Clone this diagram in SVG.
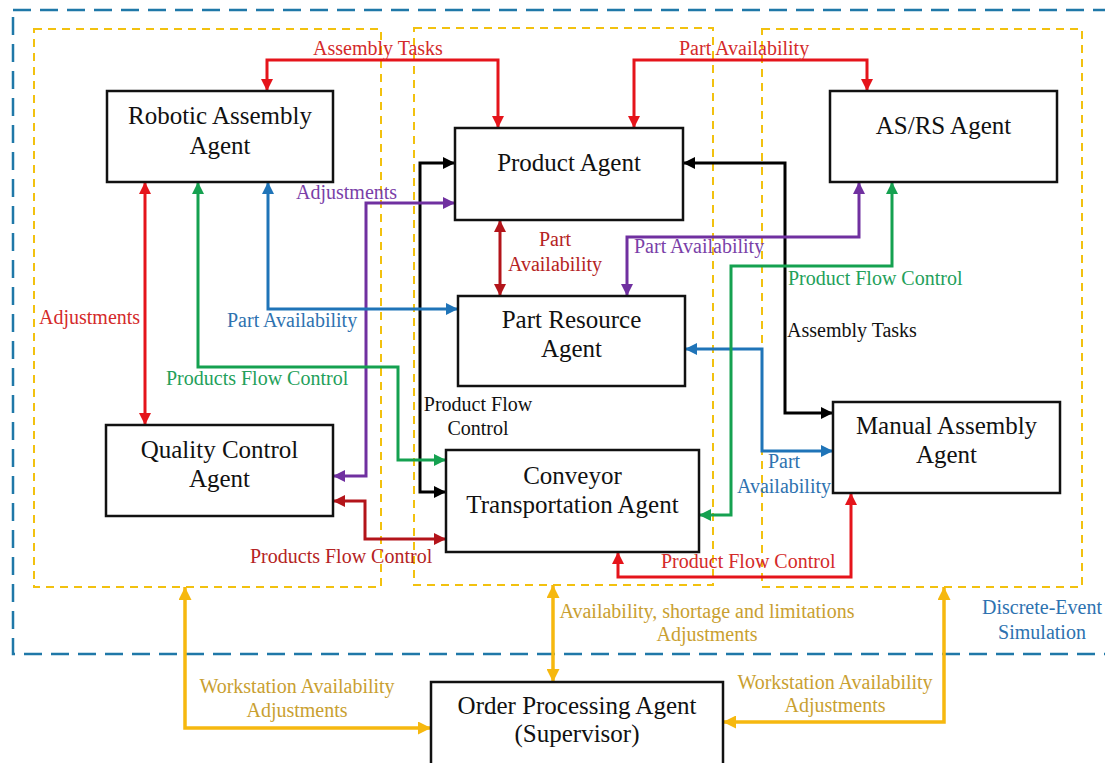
<svg xmlns="http://www.w3.org/2000/svg" width="1105" height="763" viewBox="0 0 1105 763">
<style>
.node rect{fill:#fff;stroke:#111;stroke-width:2.5}
.nt{font-family:"Liberation Serif","Times New Roman",serif;font-size:25px;fill:#111;text-anchor:middle}
.lb{font-family:"Liberation Serif","Times New Roman",serif;font-size:20px}
.c{fill:none;stroke-width:3;stroke-linejoin:miter}
.red{stroke:#e5141b}
.dred{stroke:#b3141a}
.blk{stroke:#000}
.blu{stroke:#1f74b8}
.grn{stroke:#15a150}
.pur{stroke:#7030a0}
.yel{stroke:#f6b80f;stroke-width:3.5}
</style>
<defs>
<marker id="mr" viewBox="0 0 12 12" refX="12" refY="6" markerWidth="12" markerHeight="12" markerUnits="userSpaceOnUse" orient="auto-start-reverse"><path d="M0,0 L12,6 L0,12 z" fill="#e5141b"/></marker>
<marker id="md" viewBox="0 0 12 12" refX="12" refY="6" markerWidth="12" markerHeight="12" markerUnits="userSpaceOnUse" orient="auto-start-reverse"><path d="M0,0 L12,6 L0,12 z" fill="#b3141a"/></marker>
<marker id="mk" viewBox="0 0 12 12" refX="12" refY="6" markerWidth="12" markerHeight="12" markerUnits="userSpaceOnUse" orient="auto-start-reverse"><path d="M0,0 L12,6 L0,12 z" fill="#000"/></marker>
<marker id="mb" viewBox="0 0 12 12" refX="12" refY="6" markerWidth="12" markerHeight="12" markerUnits="userSpaceOnUse" orient="auto-start-reverse"><path d="M0,0 L12,6 L0,12 z" fill="#1f74b8"/></marker>
<marker id="mg" viewBox="0 0 12 12" refX="12" refY="6" markerWidth="12" markerHeight="12" markerUnits="userSpaceOnUse" orient="auto-start-reverse"><path d="M0,0 L12,6 L0,12 z" fill="#15a150"/></marker>
<marker id="mp" viewBox="0 0 12 12" refX="12" refY="6" markerWidth="12" markerHeight="12" markerUnits="userSpaceOnUse" orient="auto-start-reverse"><path d="M0,0 L12,6 L0,12 z" fill="#7030a0"/></marker>
<marker id="my" viewBox="0 0 12 12" refX="12" refY="6" markerWidth="13" markerHeight="13" markerUnits="userSpaceOnUse" orient="auto-start-reverse"><path d="M0,0 L12,6 L0,12 z" fill="#f6b80f"/></marker>
</defs>
<rect width="1105" height="763" fill="#fff"/>
<g id="frames" fill="none">
<rect x="13" y="10" width="1110" height="644" stroke="#1f78a8" stroke-width="2.5" stroke-dasharray="18 9"/>
<rect x="34" y="29" width="347" height="558" stroke="#f2c10f" stroke-width="2" stroke-dasharray="8 6"/>
<rect x="414" y="28" width="299" height="557" stroke="#f2c10f" stroke-width="2" stroke-dasharray="8 6"/>
<rect x="762" y="29" width="320" height="558" stroke="#f2c10f" stroke-width="2" stroke-dasharray="8 6"/>
</g>
<g id="connectors">
<path class="c red" d="M267,91 V60 H498 V128" marker-start="url(#mr)" marker-end="url(#mr)"/>
<path class="c red" d="M634,128 V60 H867 V91" marker-start="url(#mr)" marker-end="url(#mr)"/>
<path class="c blk" d="M683,163 H785 V413 H833" marker-start="url(#mk)" marker-end="url(#mk)"/>
<path class="c blk" d="M455,163 H420 V492 H446" marker-start="url(#mk)" marker-end="url(#mk)"/>
<path class="c pur" d="M455,203 H366 V476 H333" marker-start="url(#mp)" marker-end="url(#mp)"/>
<path class="c pur" d="M627,296 V237 H859 V182" marker-start="url(#mp)" marker-end="url(#mp)"/>
<path class="c dred" d="M500,220 V296" marker-start="url(#md)" marker-end="url(#md)"/>
<path class="c blu" d="M268,182 V309 H458" marker-start="url(#mb)" marker-end="url(#mb)"/>
<path class="c blu" d="M685,349 H762 V451 H833" marker-start="url(#mb)" marker-end="url(#mb)"/>
<path class="c grn" d="M198,182 V367 H398 V460 H446" marker-start="url(#mg)" marker-end="url(#mg)"/>
<path class="c grn" d="M892,182 V266 H731 V515 H699" marker-start="url(#mg)" marker-end="url(#mg)"/>
<path class="c dred" d="M333,501 H365 V539 H446" marker-start="url(#md)" marker-end="url(#md)"/>
<path class="c red" d="M618,552 V577 H851 V493" marker-start="url(#mr)" marker-end="url(#mr)"/>
<path class="c red" d="M145,182 V425" marker-start="url(#mr)" marker-end="url(#mr)"/>
<path class="c yel" d="M185,587 V728 H431" marker-start="url(#my)" marker-end="url(#my)"/>
<path class="c yel" d="M553,585 V682" marker-start="url(#my)" marker-end="url(#my)"/>
<path class="c yel" d="M944,587 V722 H723" marker-start="url(#my)" marker-end="url(#my)"/>
</g>
<g id="labels" class="lb">
<text x="313" y="55" fill="#d42a2a">Assembly Tasks</text>
<text x="679" y="55" fill="#d42a2a">Part Availability</text>
<text x="296" y="199" fill="#7a3fa8">Adjustments</text>
<text x="555" y="246" fill="#b52323" text-anchor="middle">Part</text>
<text x="555" y="271" fill="#b52323" text-anchor="middle">Availability</text>
<text x="634" y="253" fill="#7a3fa8">Part Availability</text>
<text x="39" y="324" fill="#d42a2a">Adjustments</text>
<text x="227" y="327" fill="#2e72b0">Part Availability</text>
<text x="166" y="385" fill="#23a05a">Products Flow Control</text>
<text x="478" y="411" fill="#111" text-anchor="middle">Product Flow</text>
<text x="478" y="435" fill="#111" text-anchor="middle">Control</text>
<text x="788" y="285" fill="#23a05a">Product Flow Control</text>
<text x="787" y="337" fill="#111">Assembly Tasks</text>
<text x="784" y="468" fill="#2e72b0" text-anchor="middle">Part</text>
<text x="784" y="493" fill="#2e72b0" text-anchor="middle">Availability</text>
<text x="250" y="563" fill="#b52323">Products Flow Control</text>
<text x="661" y="568" fill="#d42a2a">Product Flow Control</text>
<text x="707" y="618" fill="#c9a030" text-anchor="middle">Availability, shortage and limitations</text>
<text x="707" y="641" fill="#c9a030" text-anchor="middle">Adjustments</text>
<text x="1042" y="614" fill="#2e72b0" text-anchor="middle">Discrete-Event</text>
<text x="1042" y="639" fill="#2e72b0" text-anchor="middle">Simulation</text>
<text x="297" y="693" fill="#c9a030" text-anchor="middle">Workstation Availability</text>
<text x="297" y="717" fill="#c9a030" text-anchor="middle">Adjustments</text>
<text x="835" y="689" fill="#c9a030" text-anchor="middle">Workstation Availability</text>
<text x="835" y="712" fill="#c9a030" text-anchor="middle">Adjustments</text>
</g>
<g id="robotic" class="node"><rect x="107" y="91" width="226" height="91"/><text class="nt" x="220" y="124">Robotic Assembly</text><text class="nt" x="220" y="154">Agent</text></g>
<g id="product" class="node"><rect x="455" y="128" width="228" height="92"/><text class="nt" x="569" y="171">Product Agent</text></g>
<g id="asrs" class="node"><rect x="830" y="91" width="227" height="91"/><text class="nt" x="943.5" y="134">AS/RS Agent</text></g>
<g id="partresource" class="node"><rect x="458" y="296" width="227" height="90"/><text class="nt" x="571.5" y="328">Part Resource</text><text class="nt" x="571.5" y="357">Agent</text></g>
<g id="quality" class="node"><rect x="106" y="425" width="227" height="91"/><text class="nt" x="219.5" y="458">Quality Control</text><text class="nt" x="219.5" y="487">Agent</text></g>
<g id="conveyor" class="node"><rect x="446" y="450" width="253" height="102"/><text class="nt" x="572.5" y="484">Conveyor</text><text class="nt" x="572.5" y="513">Transportation Agent</text></g>
<g id="manual" class="node"><rect x="833" y="402" width="227" height="91"/><text class="nt" x="946.5" y="434">Manual Assembly</text><text class="nt" x="946.5" y="463">Agent</text></g>
<g id="order" class="node"><rect x="431" y="682" width="292" height="95"/><text class="nt" x="577" y="714">Order Processing Agent</text><text class="nt" x="577" y="742">(Supervisor)</text></g>
</svg>
